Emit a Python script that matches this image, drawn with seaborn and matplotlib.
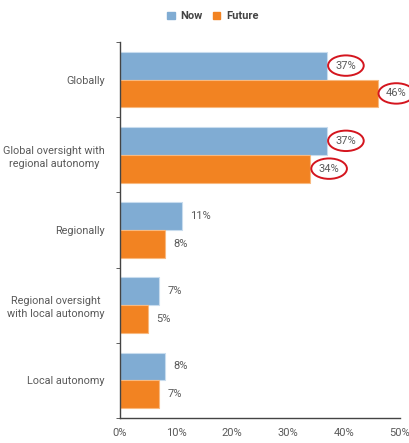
import matplotlib
matplotlib.use('Agg')
import matplotlib.pyplot as plt
import pandas as pd
import seaborn as sns
from matplotlib.ticker import FixedLocator, PercentFormatter

categories = ["Globally", "Global oversight with\nregional autonomy", "Regionally",
              "Regional oversight\nwith local autonomy", "Local autonomy"]
now    = [37, 37, 11, 7, 8]
future = [46, 34, 8, 5, 7]
series = ["Now", "Future"]
circled = {("Now", 0), ("Future", 0), ("Now", 1), ("Future", 1)}  # highlighted labels
x_ticks = [0, 10, 20, 30, 40, 50]

COLORS = {"Now": "#80acd3", "Future": "#f28322"}
EDGES  = {"Now": "#c8dcee", "Future": "#f8b97f"}
TEXT   = "#5a5a5a"

df = pd.DataFrame({
    "category": categories * 2,
    "value": now + future,
    "period": ["Now"] * len(categories) + ["Future"] * len(categories),
})

sns.set_style("white")
plt.rcParams['font.family'] = ['Roboto', 'DejaVu Sans']

fig = plt.figure(figsize=(4.09, 4.43), dpi=100)
ax = fig.add_axes([0.2934, 0.0564, 0.6846, 0.849])

sns.barplot(data=df, y="category", x="value", hue="period", order=categories,
            hue_order=series, palette=COLORS, orient="h", width=0.74,
            ax=ax, legend=False, saturation=1)

for cont, name in zip(ax.containers, series):
    for i, bar in enumerate(cont):
        bar.set_edgecolor(EDGES[name])
        bar.set_linewidth(0.8)
        val = bar.get_width()
        y = bar.get_y() + bar.get_height() / 2
        kw = {}
        if (name, i) in circled:
            kw["bbox"] = dict(boxstyle="ellipse,pad=0.2", fc="none", ec="#d4151e", lw=1.4)
        ax.annotate(f"{val:.0f}%", (val, y), xytext=(6, 0), textcoords="offset points",
                    ha="left", va="center", fontsize=8, color=TEXT,
                    annotation_clip=False, **kw)

ax.set_xlim(0, 50)
ax.set_ylim(len(categories) - 0.5, -0.5)
ax.xaxis.set_major_locator(FixedLocator(x_ticks))
ax.xaxis.set_major_formatter(PercentFormatter(decimals=0))
ax.set_xlabel("")
ax.set_ylabel("")

for s in ["top", "right"]:
    ax.spines[s].set_visible(False)
for s in ["left", "bottom"]:
    ax.spines[s].set_color("#444444")
    ax.spines[s].set_linewidth(1.0)

ax.tick_params(axis="x", colors="#444444", labelcolor=TEXT, labelsize=8,
               length=3, direction="out", pad=4)
ax.tick_params(axis="y", which="major", length=0, labelcolor=TEXT, labelsize=7.8, pad=11)
ax.yaxis.set_minor_locator(FixedLocator([i - 0.5 for i in range(len(categories) + 1)]))
ax.tick_params(axis="y", which="minor", length=3, color="#444444", direction="out", left=True)
for lab in ax.get_yticklabels():
    lab.set_horizontalalignment("right")
    lab.set_multialignment("center")
    lab.set_linespacing(1.4)

handles = [plt.Rectangle((0, 0), 1, 1, color=COLORS[s]) for s in series]
leg = fig.legend(handles, series, loc="center", bbox_to_anchor=(0.52, 0.963), ncol=2,
                 frameon=False, handlelength=0.7, handleheight=0.7, handletextpad=0.5,
                 columnspacing=0.9, prop={"size": 8, "weight": "bold"})
for t in leg.get_texts():
    t.set_color("#444444")

fig.savefig("out.png", dpi=100)
